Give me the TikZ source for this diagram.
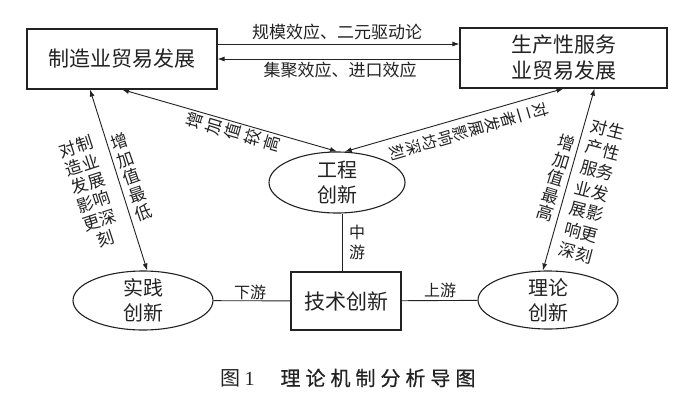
\documentclass[tikz,border=0pt]{standalone}
\usepackage{fontspec}
\newfontfamily\cjk{Noto Sans CJK SC}
\newfontfamily\lser{Liberation Serif}
\usetikzlibrary{shapes.geometric,arrows.meta,calc}
\definecolor{ink}{HTML}{222222}
\begin{document}
\begin{tikzpicture}[x=1pt,y=-1pt,
  every node/.style={text=ink},
  box/.style={draw=ink, line width=1.1pt, inner sep=0pt, align=center, font=\cjk\fontsize{21}{26}\selectfont},
  oval/.style={draw=ink, ellipse, line width=1.1pt, inner sep=0pt},
  ovaltxt/.style={align=center, inner sep=0pt, font=\cjk\fontsize{20}{25}\selectfont},
  lbl/.style={font=\cjk\fontsize{17}{20}\selectfont, inner sep=0pt, align=center},
  lblsm/.style={font=\cjk\fontsize{16}{19}\selectfont, inner sep=0pt, align=center},
  conn/.style={draw=ink, line width=0.9pt},
  arr/.style={conn, -{Latex[length=7pt,width=5pt]}},
  darr/.style={conn, {Latex[length=7pt,width=5pt]}-{Latex[length=7pt,width=5pt]}},
]
\useasboundingbox[fill=white] (0,0) rectangle (700,402);
% boxes
\node[box, minimum width=190pt, minimum height=60pt] (L) at (122,59) {制造业贸易发展};
\node[box, minimum width=207pt, minimum height=60pt] (R) at (563.5,58) {生产性服务\\业贸易发展};
\node[box, minimum width=110pt, minimum height=58pt] (B) at (346,301) {技术创新};
% ellipses
\node[oval, minimum width=136pt, minimum height=61pt] (E) at (337,182.5) {};
\node[ovaltxt] (Et) at (E.center) {工程\\创新};
\node[oval, minimum width=140pt, minimum height=59pt] (P) at (143,300.5) {};
\node[ovaltxt] (Pt) at (P.center) {实践\\创新};
\node[oval, minimum width=140pt, minimum height=58pt] (T) at (548,300) {};
\node[ovaltxt] (Tt) at (T.center) {理论\\创新};
% top arrows
\draw[arr] ([yshift=15pt]L.east) -- ([yshift=15pt]L.east -| R.west);
\draw[arr] (R.west |- L.east) -- (L.east);
\node[lbl] (t1) at (337,32) {规模效应、二元驱动论};
\node[lbl] (t2) at (340,70) {集聚效应、进口效应};
% arrows to engineering innovation
\draw[darr] (E.north) -- (L.south);
\draw[darr] (E.76) -- (R.south);
\node[lbl, rotate=73.6] (t3) at (233,132) {增\\加\\值\\较\\高};
\node[lbl, font=\cjk\fontsize{16}{16.5}\selectfont, rotate=-73.6] (t4) at (469,131) {对\\二\\者\\发\\展\\影\\响\\均\\深\\刻};
% side arrows
\draw[darr] ([xshift=-32pt]L.south) -- (P.82);
\draw[darr] ([xshift=31pt]R.south) -- (T.100);
\node[lbl, font=\cjk\fontsize{17}{18.7}\selectfont, rotate=19] (t5) at (131.5,177) {增\\加\\值\\最\\低};
\node[lbl, font=\cjk\fontsize{17}{19.3}\selectfont, rotate=18] (t6) at (91,192.5) {对制\\造业\\发展\\影响\\更深\\刻};
\node[lbl, font=\cjk\fontsize{17}{18.3}\selectfont, rotate=-17] (t7) at (556,178) {增\\加\\值\\最\\高};
\node[lbl, font=\cjk\fontsize{17}{21.3}\selectfont, rotate=-14.5] (t8) at (592,191) {对生\\产性\\服务\\业发\\展影\\响更\\深刻};
% bottom connections
\draw[conn] (P) -- (B);
\draw[conn] (B) -- (T);
\draw[conn] ([xshift=-4pt]B.north) -- ([xshift=-4pt]B.north |- E.south);
\node[lblsm] (t9) at (250,292) {下游};
\node[lblsm] (t10) at (440,290) {上游};
\node[lblsm, font=\cjk\fontsize{16}{20}\selectfont] (t11) at (357,242) {中\\游};
% caption
\node[font=\cjk\fontsize{20}{24}\selectfont, inner sep=0pt] (cap) at (348,378) {图\hspace{4pt}{\lser 1}\hspace{26pt}{\addfontfeatures{FakeBold=0.6}理\hspace{5pt}论\hspace{5pt}机\hspace{5pt}制\hspace{5pt}分\hspace{5pt}析\hspace{5pt}导\hspace{5pt}图}};
\end{tikzpicture}
\end{document}
